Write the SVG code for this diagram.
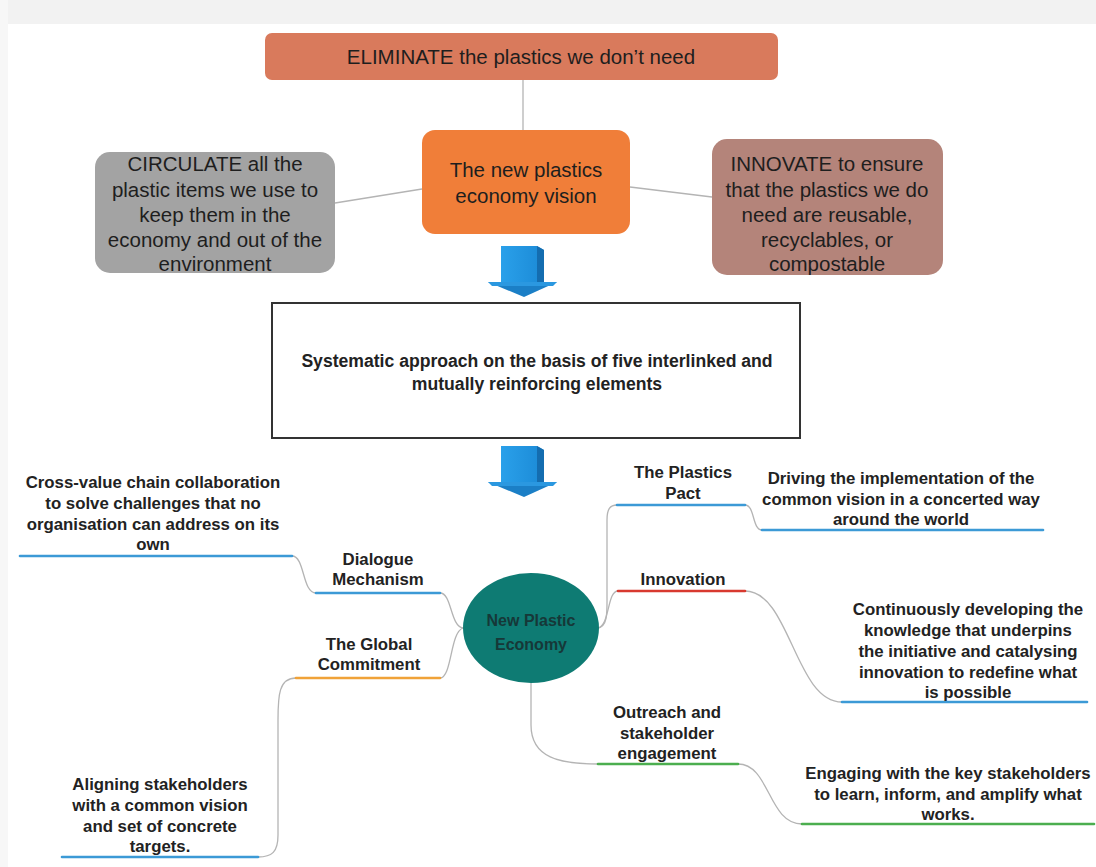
<svg xmlns="http://www.w3.org/2000/svg" width="1096" height="867" viewBox="0 0 1096 867">
<style>
  .t{font-family:"Liberation Sans",Arial,sans-serif;font-size:20.5px;fill:#1e1e1e;text-anchor:middle}
  .b{font-family:"Liberation Sans",Arial,sans-serif;font-size:16.8px;font-weight:bold;fill:#222;text-anchor:middle}
  .con{fill:none;stroke:#b4b4b4;stroke-width:1.3}
  .ul{fill:none;stroke-width:2.6;stroke-linecap:round}
  .blue{stroke:#3c9ad6}.red{stroke:#d8392f}.orange{stroke:#f0a238}.green{stroke:#4cae4f}
</style>
<defs>
  <linearGradient id="shaft" x1="0" x2="1" y1="0" y2="0">
    <stop offset="0" stop-color="#2aa0ea"/>
    <stop offset="1" stop-color="#1b8ad6"/>
  </linearGradient>
  <g id="darrow">
    <polygon points="0,0 36,0 43,4 43,37 0,37" fill="url(#shaft)"/>
    <polygon points="36,0 43,4 43,37 36,37" fill="#146db0"/>
    <polygon points="-13,36 56,36 23,51" fill="#1b7fc6"/>
    <polygon points="-13,36 56,36 52,40 -9,40" fill="#2b98e0"/>
  </g>
</defs>
<rect x="0" y="0" width="1096" height="867" fill="#ffffff"/>
<rect x="0" y="0" width="1096" height="24" fill="#f2f2f2"/>
<rect x="0" y="0" width="8" height="867" fill="#f7f7f7"/>

<g id="connectors">
  <line class="con" x1="523" y1="80" x2="523" y2="131"/>
  <path class="con" d="M335,203 L422,189"/>
  <path class="con" d="M630,187 L712,197"/>
  <!-- left -->
  <path class="con" d="M292,556 C305,556 302,593 316,593"/>
  <path class="con" d="M440,593 C452,593 450,626 463,628"/>
  <path class="con" d="M440,678 C452,678 450,632 463,628"/>
  <path class="con" d="M296,678 C279,678 278,695 278,720 L278,835 C278,852 272,857 258,857"/>
  <!-- right -->
  <path class="con" d="M598,628 C608,626 607,612 607,595 L607,520 C607,509 610,505 617,505"/>
  <path class="con" d="M598,628 C610,625 607,591 618,591"/>
  <path class="con" d="M745,505 C755,505 752,530 762,530"/>
  <path class="con" d="M745,591 C790,591 795,702 842,702"/>
  <path class="con" d="M531,683 L531,725 C531,758 560,764 598,764"/>
  <path class="con" d="M738,764 C770,764 768,824 802,824"/>
  <!-- underlines -->
  <line class="ul blue" x1="20" y1="556" x2="292" y2="556"/>
  <line class="ul blue" x1="316" y1="593" x2="440" y2="593"/>
  <line class="ul orange" x1="296" y1="678" x2="440" y2="678"/>
  <line class="ul blue" x1="62" y1="857" x2="258" y2="857"/>
  <line class="ul blue" x1="617" y1="505" x2="745" y2="505"/>
  <line class="ul blue" x1="762" y1="530" x2="1043" y2="530"/>
  <line class="ul red" x1="618" y1="591" x2="745" y2="591"/>
  <line class="ul blue" x1="842" y1="702" x2="1087" y2="702"/>
  <line class="ul green" x1="598" y1="764" x2="738" y2="764"/>
  <line class="ul green" x1="802" y1="824" x2="1094" y2="824"/>
</g>

<g id="eliminate">
  <rect x="265" y="33" width="513" height="47" rx="7" fill="#d97a5c"/>
  <text class="t" x="521" y="64">ELIMINATE the plastics we don’t need</text>
</g>
<g id="vision">
  <rect x="422" y="130" width="208" height="104" rx="13" fill="#f07e39"/>
  <text class="t" x="526" y="177">The new plastics</text>
  <text class="t" x="526" y="203">economy vision</text>
</g>
<g id="circulate">
  <rect x="95" y="152" width="240" height="121" rx="15" fill="#a3a3a3"/>
  <text class="t" x="215" y="171">CIRCULATE all the</text>
  <text class="t" x="215" y="197">plastic items we use to</text>
  <text class="t" x="215" y="222">keep them in the</text>
  <text class="t" x="215" y="247">economy and out of the</text>
  <text class="t" x="215" y="271">environment</text>
</g>
<g id="innovate">
  <rect x="712" y="139" width="231" height="136" rx="15" fill="#b4847a"/>
  <text class="t" x="827" y="171">INNOVATE to ensure</text>
  <text class="t" x="827" y="197">that the plastics we do</text>
  <text class="t" x="827" y="222">need are reusable,</text>
  <text class="t" x="827" y="247">recyclables, or</text>
  <text class="t" x="827" y="271">compostable</text>
</g>
<g id="arrow1"><use href="#darrow" x="501" y="246"/></g>
<g id="approach">
  <rect x="272" y="303" width="528" height="135" fill="#ffffff" stroke="#333" stroke-width="2"/>
  <text class="b" x="537" y="367" style="font-size:17.6px">Systematic approach on the basis of five interlinked and</text>
  <text class="b" x="537" y="390" style="font-size:17.6px">mutually reinforcing elements</text>
</g>
<g id="arrow2"><use href="#darrow" x="501" y="446"/></g>

<g id="center">
  <ellipse cx="531" cy="628" rx="68" ry="55" fill="#0e7b73"/>
  <text class="b" x="531" y="626" style="font-size:16px;fill:#163838">New Plastic</text>
  <text class="b" x="531" y="650" style="font-size:16px;fill:#163838">Economy</text>
</g>

<g id="dialogue">
  <text class="b" x="378" y="565">Dialogue</text>
  <text class="b" x="378" y="585">Mechanism</text>
</g>
<g id="dialogue-desc">
  <text class="b" x="153" y="488">Cross-value chain collaboration</text>
  <text class="b" x="153" y="509">to solve challenges that no</text>
  <text class="b" x="153" y="530">organisation can address on its</text>
  <text class="b" x="153" y="550">own</text>
</g>
<g id="global">
  <text class="b" x="369" y="650">The Global</text>
  <text class="b" x="369" y="670">Commitment</text>
</g>
<g id="global-desc">
  <text class="b" x="160" y="790">Aligning stakeholders</text>
  <text class="b" x="160" y="811">with a common vision</text>
  <text class="b" x="160" y="832">and set of concrete</text>
  <text class="b" x="160" y="852">targets.</text>
</g>
<g id="pact">
  <text class="b" x="683" y="478">The Plastics</text>
  <text class="b" x="683" y="499">Pact</text>
</g>
<g id="pact-desc">
  <text class="b" x="901" y="484">Driving the implementation of the</text>
  <text class="b" x="901" y="505">common vision in a concerted way</text>
  <text class="b" x="901" y="525">around the world</text>
</g>
<g id="innovation">
  <text class="b" x="683" y="585">Innovation</text>
</g>
<g id="innovation-desc">
  <text class="b" x="968" y="615">Continuously developing the</text>
  <text class="b" x="968" y="636">knowledge that underpins</text>
  <text class="b" x="968" y="657">the initiative and catalysing</text>
  <text class="b" x="968" y="678">innovation to redefine what</text>
  <text class="b" x="968" y="698">is possible</text>
</g>
<g id="outreach">
  <text class="b" x="667" y="718">Outreach and</text>
  <text class="b" x="667" y="739">stakeholder</text>
  <text class="b" x="667" y="759">engagement</text>
</g>
<g id="outreach-desc">
  <text class="b" x="948" y="779">Engaging with the key stakeholders</text>
  <text class="b" x="948" y="800">to learn, inform, and amplify what</text>
  <text class="b" x="948" y="820">works.</text>
</g>
</svg>
